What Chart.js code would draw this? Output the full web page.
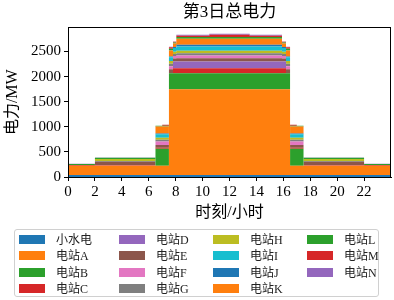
<!DOCTYPE html>
<html>
<head>
<meta charset="utf-8">
<script src="https://cdn.jsdelivr.net/npm/chart.js@4/dist/chart.umd.min.js"></script>
<style>
  html, body { margin: 0; padding: 0; background: #fff; }
  #wrap { position: relative; width: 394px; height: 300px; }
  #c { position: absolute; left: 0; top: 0; }
  #legend { position: absolute; left: 14px; top: 229px; width: 365px; height: 68px;
            border: 1px solid #d0d0d0; border-radius: 3px; box-sizing: border-box;
            font-family: 'Liberation Serif', 'Noto Sans CJK SC', serif; font-size: 12px; color: #222; }
  .item { position: absolute; height: 14px; line-height: 14px; white-space: nowrap; }
  .sw { position: absolute; width: 26px; height: 9px; top: 2px; left: 0; }
  .lb { position: absolute; left: 37px; top: 0; }
</style>
</head>
<body>
<div id="wrap">
  <canvas id="c" width="394" height="300"></canvas>
  <div id="legend"></div>
</div>
<script>
// Step breakpoints (hour of day); each value holds from its time until the next time
const times = [0, 2, 6.5, 7.0, 7.5, 7.8, 8.05, 10.5, 13.5, 15.9, 16.2, 16.5, 17.0, 17.5, 22, 24];

const seriesNames = ['小水电','电站A','电站B','电站C','电站D','电站E','电站F','电站G','电站H','电站I','电站J','电站K','电站L','电站M','电站N'];

const xiaoshuidian = [40,40,40,40,40,40,40,40,40,40,40,40,40,40,40,40];
const stationA = [185,185,185,185,1707,1707,1707,1707,1707,1707,1707,185,185,185,185,185];
const stationB = [0,0,340,340,320,320,320,320,320,320,320,340,340,0,0,0];
const stationC = [15,10,20,20,0,100,100,100,100,100,0,20,20,10,15,15];
const stationD = [0,0,0,0,0,133,133,133,133,133,0,0,0,0,0,0];
const stationE = [0,70,50,50,80,60,67,67,67,60,80,50,50,70,0,0];
const stationF = [0,0,70,70,60,50,53,53,53,50,60,70,70,0,0,0];
const stationG = [0,15,35,35,50,40,47,47,47,40,50,35,35,15,0,0];
const stationH = [0,40,40,40,55,45,47,47,47,45,55,40,40,40,0,0];
const stationI = [0,0,70,70,75,75,87,87,87,75,75,70,70,0,0,0];
const stationJ = [0,0,15,15,15,20,33,33,33,20,15,15,15,0,0,0];
const stationK = [0,0,140,140,118,70,120,120,120,70,118,140,140,0,0,0];
const stationL = [20,25,15,15,35,20,33,33,33,20,35,15,15,25,20,20];
const stationM = [0,0,0,20,30,15,27,47,27,15,30,20,0,0,0,0];
const stationN = [3,5,0,0,10,5,20,20,20,5,10,0,0,5,3,3];

const xTicks = [0, 2, 4, 6, 8, 10, 12, 14, 16, 18, 20, 22];
const yTicks = [0, 500, 1000, 1500, 2000, 2500];

const titleText = '第3日总电力';
const xTitle = '时刻/小时';
const yTitle = '电力/MW';

const seriesValues = [xiaoshuidian, stationA, stationB, stationC, stationD, stationE, stationF,
  stationG, stationH, stationI, stationJ, stationK, stationL, stationM, stationN];

const tab10 = ['#1f77b4','#ff7f0e','#2ca02c','#d62728','#9467bd','#8c564b','#e377c2','#7f7f7f','#bcbd22','#17becf'];

const datasets = seriesNames.map((name, i) => ({
  label: name,
  data: times.map((t, k) => ({ x: t, y: seriesValues[i][k] })),
  backgroundColor: tab10[i % 10],
  borderColor: tab10[i % 10],
  borderWidth: 0,
  pointRadius: 0,
  stepped: 'before',
  fill: i === 0 ? 'origin' : '-1'
}));

const serif = "'Liberation Serif', 'Noto Sans CJK SC', serif";

const framePlugin = {
  id: 'frame',
  afterDatasetsDraw(chart) {
    const { ctx, chartArea: a } = chart;
    ctx.save();
    ctx.strokeStyle = '#000';
    ctx.lineWidth = 1;
    ctx.strokeRect(Math.round(a.left) + 0.5, Math.round(a.top) + 0.5,
                   Math.round(a.right - a.left) - 1, Math.round(a.bottom - a.top));
    ctx.restore();
  }
};

new Chart(document.getElementById('c'), {
  type: 'line',
  data: { datasets },
  options: {
    responsive: false,
    animation: false,
    layout: { padding: { left: 0, right: 3, top: 0, bottom: 78 } },
    plugins: {
      legend: { display: false },
      tooltip: { enabled: false },
      title: {
        display: true, text: titleText, color: '#000', fullSize: false,
        font: { family: serif, size: 17, weight: 'normal' },
        padding: { top: 2, bottom: 5 }
      },
      filler: { propagate: false }
    },
    scales: {
      x: {
        type: 'linear', min: 0, max: 24,
        afterBuildTicks: s => { s.ticks = xTicks.map(v => ({ value: v })); },
        afterFit: s => { s.height = 45; },
        ticks: { color: '#000', font: { family: serif, size: 15 }, padding: 2, maxRotation: 0,
                 callback: v => String(v) },
        grid: { display: true, drawOnChartArea: false, drawTicks: true, tickLength: 4, color: '#000' },
        border: { display: true, color: '#000', width: 1 },
        title: { display: true, text: xTitle, color: '#000', font: { family: serif, size: 16 }, padding: { top: 1, bottom: 0 } }
      },
      y: {
        stacked: true, min: 0, max: 2980,
        afterBuildTicks: s => { s.ticks = yTicks.map(v => ({ value: v })); },
        afterFit: s => { s.width = 68; },
        ticks: { color: '#000', font: { family: serif, size: 15 }, padding: 3,
                 callback: v => String(v) },
        grid: { display: true, drawOnChartArea: false, drawTicks: true, tickLength: 4, color: '#000' },
        border: { display: true, color: '#000', width: 1 },
        title: { display: true, text: yTitle, color: '#000', font: { family: serif, size: 16 }, padding: { top: 3, bottom: 0 } }
      }
    }
  },
  plugins: [framePlugin]
});

// Column-major legend (4 rows per column), built from the dataset names/colours
const leg = document.getElementById('legend');
const colX = [4, 104, 198, 292];
const rowY = [3, 19, 36, 52];
seriesNames.forEach((name, i) => {
  const col = Math.floor(i / 4), row = i % 4;
  const it = document.createElement('div');
  it.className = 'item';
  it.style.left = colX[col] + 'px';
  it.style.top = rowY[row] + 'px';
  const sw = document.createElement('span');
  sw.className = 'sw';
  sw.style.background = tab10[i % 10];
  const lb = document.createElement('span');
  lb.className = 'lb';
  lb.textContent = name;
  it.appendChild(sw); it.appendChild(lb);
  leg.appendChild(it);
});
</script>
</body>
</html>
